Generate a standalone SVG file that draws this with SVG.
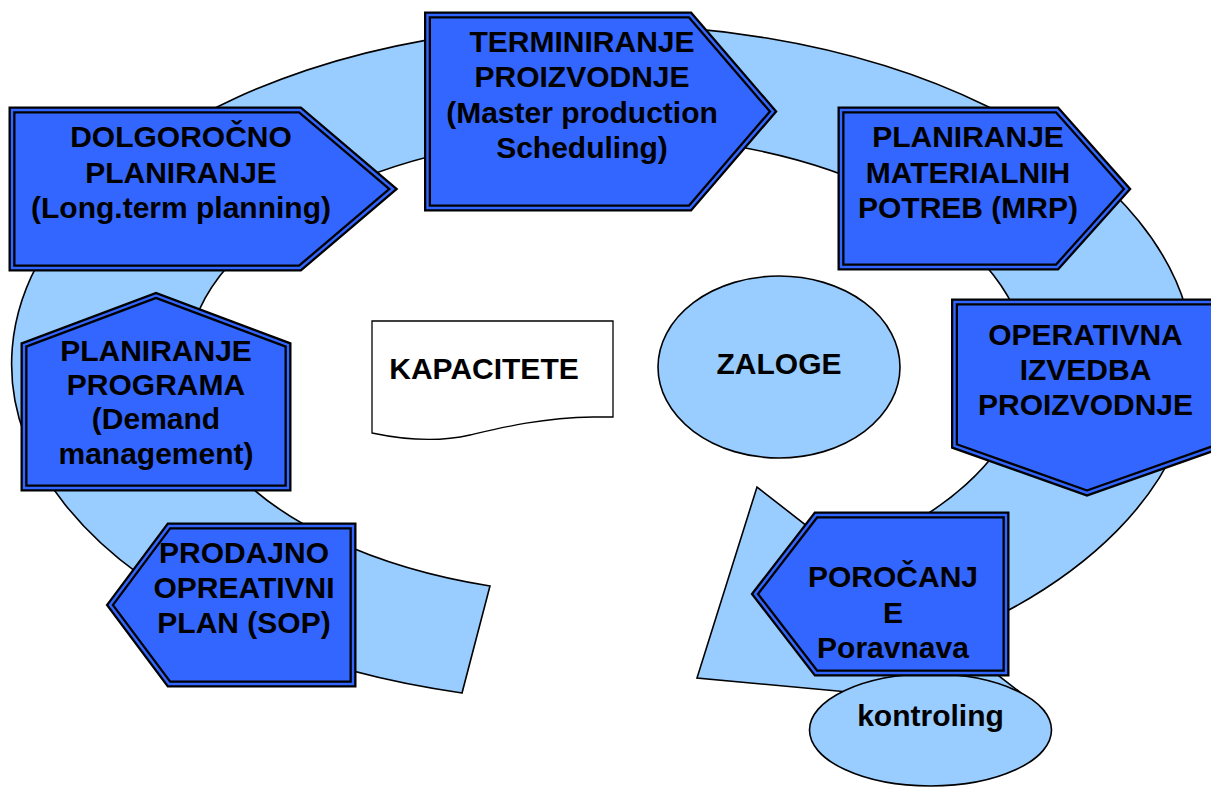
<svg xmlns="http://www.w3.org/2000/svg" width="1211" height="787" viewBox="0 0 1211 787">
  <style>
    .ring { fill:#99CCFF; stroke:#000; stroke-width:1.6; stroke-linejoin:miter; }
    .frame { fill:#3366FF; stroke:#000; stroke-width:7; stroke-linejoin:miter; }
    .gap { fill:none; stroke:#3366FF; stroke-width:2.4; stroke-linejoin:miter; }
    .oval { fill:#99CCFF; stroke:#000; stroke-width:1.6; }
    .doc { fill:#FFFFFF; stroke:#000; stroke-width:1.3; }
    .lbl { font-family:"Liberation Sans", Arial, sans-serif; font-weight:bold; font-size:30px; fill:#000; text-anchor:middle; }
  </style>

  <!-- circular process arrow -->
  <g id="connectors">
    <path class="ring" d="M462,693 A591,339 0 1 1 950,638 L1043,710 L697,678 L757,487 L844,555 A420,230 0 1 0 490,586 Z"/>
  </g>

  <g id="kapacitete">
    <path class="doc" d="M372,321 L613,321 L613,417 L593,417 C540,418 500,428 470,435 C440,442 405,440 372,433 Z"/>
    <text class="lbl" x="484" y="379">KAPACITETE</text>
  </g>

  <g id="zaloge">
    <ellipse class="oval" cx="779" cy="367" rx="121" ry="91"/>
    <text class="lbl" x="779" y="374">ZALOGE</text>
  </g>

  <!-- each block: thick black outline, then a thin blue line down its middle to give the double border -->
  <g id="dolgorocno">
    <path class="frame" d="M12,110 L300,110 L393,189 L300,268 L12,268 Z"/>
    <path class="gap" d="M12,110 L300,110 L393,189 L300,268 L12,268 Z"/>
    <text class="lbl" x="181" y="147">DOLGOROČNO</text>
    <text class="lbl" x="181" y="183">PLANIRANJE</text>
    <text class="lbl" x="181" y="218">(Long.term planning)</text>
  </g>

  <g id="terminiranje">
    <path class="frame" d="M427.5,15 L690,15 L773,111.5 L690,208 L427.5,208 Z"/>
    <path class="gap" d="M427.5,15 L690,15 L773,111.5 L690,208 L427.5,208 Z"/>
    <text class="lbl" x="582" y="52">TERMINIRANJE</text>
    <text class="lbl" x="582" y="87">PROIZVODNJE</text>
    <text class="lbl" x="582" y="123">(Master production</text>
    <text class="lbl" x="582" y="158">Scheduling)</text>
  </g>

  <g id="mrp">
    <path class="frame" d="M841,110 L1057,110 L1127,189 L1057,267 L841,267 Z"/>
    <path class="gap" d="M841,110 L1057,110 L1127,189 L1057,267 L841,267 Z"/>
    <text class="lbl" x="968" y="147">PLANIRANJE</text>
    <text class="lbl" x="968" y="183">MATERIALNIH</text>
    <text class="lbl" x="968" y="218">POTREB (MRP)</text>
  </g>

  <g id="operativna">
    <path class="frame" d="M954.5,302 L1220,302 L1220,446 L1087,493 L954.5,446 Z"/>
    <path class="gap" d="M954.5,302 L1220,302 L1220,446 L1087,493 L954.5,446 Z"/>
    <text class="lbl" x="1085.5" y="345">OPERATIVNA</text>
    <text class="lbl" x="1085.5" y="380">IZVEDBA</text>
    <text class="lbl" x="1085.5" y="415">PROIZVODNJE</text>
  </g>

  <g id="program">
    <path class="frame" d="M24,345 L156,295.5 L288,345 L288,488 L24,488 Z"/>
    <path class="gap" d="M24,345 L156,295.5 L288,345 L288,488 L24,488 Z"/>
    <text class="lbl" x="156" y="361">PLANIRANJE</text>
    <text class="lbl" x="156" y="395">PROGRAMA</text>
    <text class="lbl" x="156" y="429">(Demand</text>
    <text class="lbl" x="156" y="464">management)</text>
  </g>

  <g id="sop">
    <path class="frame" d="M110,605 L169,526 L353,526 L353,684 L169,684 Z"/>
    <path class="gap" d="M110,605 L169,526 L353,526 L353,684 L169,684 Z"/>
    <text class="lbl" x="244" y="563">PRODAJNO</text>
    <text class="lbl" x="244" y="598">OPREATIVNI</text>
    <text class="lbl" x="244" y="633">PLAN (SOP)</text>
  </g>

  <g id="kontroling">
    <ellipse class="oval" cx="930.5" cy="730" rx="121" ry="56"/>
    <text class="lbl" x="930.5" y="726">kontroling</text>
  </g>

  <g id="porocanje">
    <path class="frame" d="M755,594 L816,515 L1006,515 L1006,673 L816,673 Z"/>
    <path class="gap" d="M755,594 L816,515 L1006,515 L1006,673 L816,673 Z"/>
    <text class="lbl" x="893" y="587">POROČANJ</text>
    <text class="lbl" x="893" y="623">E</text>
    <text class="lbl" x="893" y="658">Poravnava</text>
  </g>
</svg>
